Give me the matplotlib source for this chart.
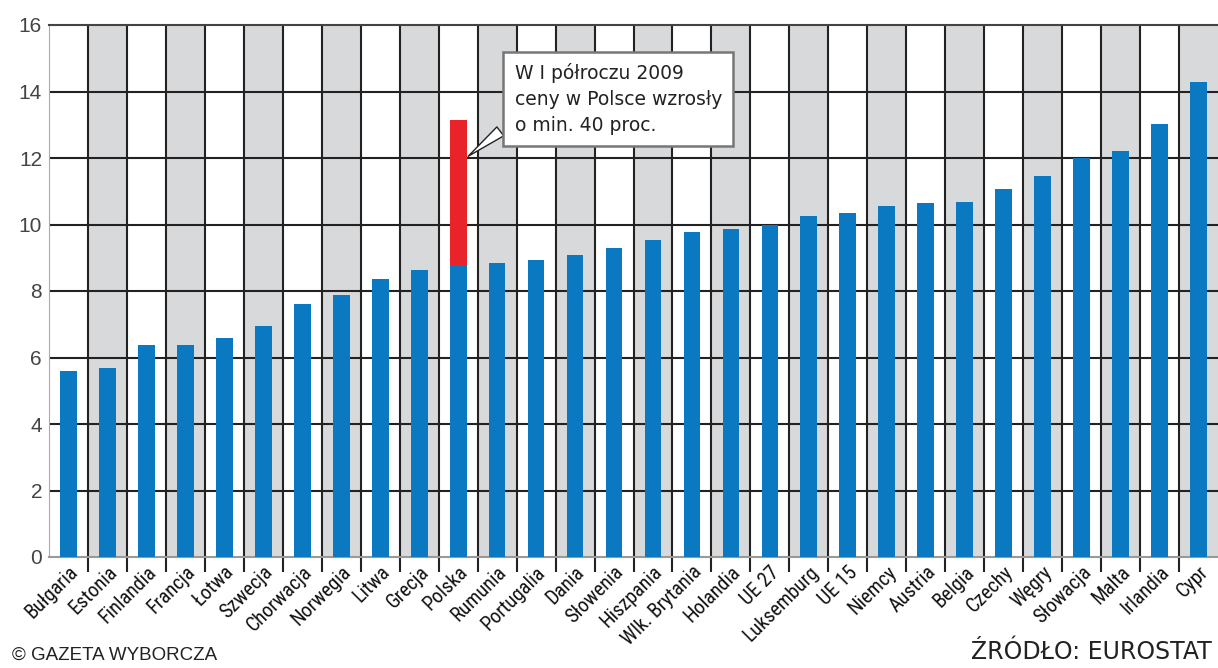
import matplotlib
matplotlib.use("Agg")
import matplotlib.pyplot as plt
from matplotlib import font_manager
import numpy as np

names = {f.name for f in font_manager.fontManager.ttflist}
narrow = [n for n in ["DejaVu Sans Condensed", "Liberation Sans Narrow", "Roboto Condensed"] if n in names]
label_family = narrow + ["DejaVu Sans"]

countries = ["Bułgaria", "Estonia", "Finlandia", "Francja", "Łotwa", "Szwecja",
             "Chorwacja", "Norwegia", "Litwa", "Grecja", "Polska", "Rumunia",
             "Portugalia", "Dania", "Słowenia", "Hiszpania", "Wlk. Brytania",
             "Holandia", "UE 27", "Luksemburg", "UE 15", "Niemcy", "Austria",
             "Belgia", "Czechy", "Węgry", "Słowacja", "Malta", "Irlandia", "Cypr"]
values = [5.59, 5.67, 6.37, 6.37, 6.6, 6.96, 7.61, 7.87, 8.37, 8.62, 8.74,
          8.84, 8.92, 9.09, 9.3, 9.54, 9.76, 9.86, 10.0, 10.26, 10.35, 10.55,
          10.66, 10.68, 11.06, 11.45, 12.0, 12.2, 13.03, 14.3]
polska_after = 13.13  # po podwyzce w I polroczu 2009
yticks = [0, 2, 4, 6, 8, 10, 12, 14, 16]

blue = "#0b78c2"
red = "#e8232a"
grey = "#d8d9db"

fig = plt.figure(figsize=(12.18, 6.68), dpi=100)
ax = fig.add_axes([49 / 1218, 111 / 668, 1 - 49 / 1218, 532 / 668])

x = np.arange(len(countries))
ax.set_xlim(-0.5, len(countries) - 0.5)
ax.set_ylim(0, 16)

# alternating column shading
for i in x:
    if i % 2 == 1:
        ax.axvspan(i - 0.5, i + 0.5, color=grey, lw=0, zorder=0)

# grid
for y in yticks[1:-1]:
    ax.axhline(y, color="#222222", lw=1.5, zorder=1)
ax.vlines(x[:-1] + 0.5, -0.45, 16, color="#222222", lw=1.5, zorder=1, clip_on=False)

ax.bar(x, values, width=0.43, color=blue, zorder=3)
pl = countries.index("Polska")
ax.bar(pl, polska_after - values[pl], bottom=values[pl], width=0.43, color=red, zorder=3)

ax.spines["right"].set_visible(False)
ax.spines["top"].set_color("#444444")
ax.spines["top"].set_linewidth(1.5)
ax.spines["left"].set_color("#aaaaaa")
ax.spines["bottom"].set_color("#999999")
ax.spines["bottom"].set_linewidth(1.5)

ax.set_yticks(yticks)
ax.set_yticklabels([str(v) for v in yticks], fontsize=15, color="#444444",
                   family=['Liberation Sans', 'DejaVu Sans'])
ax.tick_params(axis="y", length=0, pad=5)
ax.set_xticks(x)
ax.set_xticklabels(countries, rotation=45, ha="right", va="top",
                   rotation_mode="anchor", fontsize=14.5, color="#111111",
                   family=label_family)
ax.tick_params(axis="x", length=0, pad=4)

ax.annotate("W I półroczu 2009\nceny w Polsce wzrosły\no min. 40 proc.",
            xy=(pl + 0.2, 12.0), xytext=(11.45, 13.78),
            ha="left", va="center", fontsize=13.5, color="#222222",
            family=['DejaVu Sans'], linespacing=1.45, zorder=5,
            bbox=dict(boxstyle="square,pad=0.6", fc="white", ec="#777777", lw=1.8),
            arrowprops=dict(arrowstyle="wedge,tail_width=0.6,shrink_factor=0.5",
                            fc="white", ec="#222222", lw=1.0,
                            relpos=(0.0, 0.2)))

fig.text(12 / 1218, 4 / 668, "© GAZETA WYBORCZA", fontsize=13.5, color="#222222",
         ha="left", va="bottom", family=['Liberation Sans', 'DejaVu Sans'])
fig.text(1212 / 1218, 4 / 668, "ŹRÓDŁO: EUROSTAT", fontsize=17, color="#222222",
         ha="right", va="bottom", family=['DejaVu Sans'])

fig.savefig("out.png", dpi=100)
